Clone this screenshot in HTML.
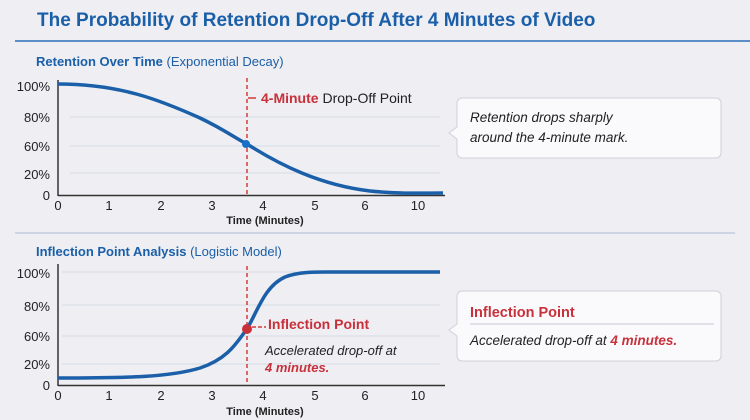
<!DOCTYPE html>
<html><head><style>
body{margin:0;background:#eeeef3;}
svg{display:block;font-family:"Liberation Sans",sans-serif;}
</style></head><body>
<svg width="750" height="420" viewBox="0 0 750 420">
<rect width="750" height="420" fill="#eeeef3"/>
<text x="37" y="26" font-size="19" font-weight="bold" fill="#1a5fa8">The Probability of Retention Drop-Off After 4 Minutes of Video</text>
<line x1="15" y1="41" x2="750" y2="41" stroke="#2a6fb8" stroke-width="1.5"/>
<text x="36" y="66" font-size="13" fill="#1a5fa8"><tspan font-weight="bold">Retention Over Time</tspan> (Exponential Decay)</text>
<g stroke="#d8dce6" stroke-width="1"><line x1="70" y1="117" x2="440" y2="117"/><line x1="70" y1="146" x2="440" y2="146"/><line x1="70" y1="173" x2="440" y2="173"/></g>
<g font-size="13" fill="#222" text-anchor="end"><text x="50" y="91">100%</text><text x="50" y="122">80%</text><text x="50" y="151">60%</text><text x="50" y="179">20%</text><text x="50" y="200">0</text></g>
<line x1="58" y1="80" x2="58" y2="196" stroke="#333" stroke-width="1.5"/>
<line x1="58" y1="195.5" x2="445" y2="195.5" stroke="#333" stroke-width="1.5"/>
<g font-size="13" fill="#222" text-anchor="middle"><text x="58" y="210">0</text><text x="109" y="210">1</text><text x="161" y="210">2</text><text x="212" y="210">3</text><text x="263" y="210">4</text><text x="315" y="210">5</text><text x="365" y="210">6</text><text x="418" y="210">10</text></g>
<text x="265" y="224" font-size="11" font-weight="bold" fill="#222" text-anchor="middle">Time (Minutes)</text>
<line x1="247" y1="78" x2="247" y2="195" stroke="#d63a3a" stroke-width="1.5" stroke-dasharray="4,3"/>
<path d="M58,84 C120,84 160,100 200,118 C225,130 235,138 247,144 C280,165 320,185 370,191 C400,194 420,193 443,193" fill="none" stroke="#1a5fa8" stroke-width="3.5"/>
<circle cx="246" cy="144" r="4" fill="#1a6fc8"/>
<line x1="248" y1="98" x2="256" y2="98" stroke="#d63a3a" stroke-width="1.5"/>
<text x="261" y="103" font-size="14" fill="#222"><tspan font-weight="bold" fill="#c8303a">4-Minute</tspan> Drop-Off Point</text>
<path d="M462,98 H716 a5,5 0 0 1 5,5 V153 a5,5 0 0 1 -5,5 H462 a5,5 0 0 1 -5,-5 V139 L449,133 L457,127 V103 a5,5 0 0 1 5,-5 Z" fill="#fafafc" stroke="#cfd2da"/>
<text x="470" y="122" font-size="13.5" font-style="italic" fill="#222">Retention drops sharply</text>
<text x="470" y="142" font-size="13.5" font-style="italic" fill="#222">around the 4-minute mark.</text>
<line x1="15" y1="233" x2="735" y2="233" stroke="#a9bcd4" stroke-width="1"/>
<text x="36" y="256" font-size="13" fill="#1a5fa8"><tspan font-weight="bold">Inflection Point Analysis</tspan> (Logistic Model)</text>
<g stroke="#d8dce6" stroke-width="1"><line x1="62" y1="272" x2="440" y2="272"/><line x1="62" y1="305" x2="440" y2="305"/><line x1="62" y1="336" x2="440" y2="336"/><line x1="62" y1="364" x2="440" y2="364"/></g>
<g font-size="13" fill="#222" text-anchor="end"><text x="50" y="278">100%</text><text x="50" y="311">80%</text><text x="50" y="341">60%</text><text x="50" y="369">20%</text><text x="50" y="390">0</text></g>
<line x1="58" y1="264" x2="58" y2="386" stroke="#333" stroke-width="1.5"/>
<line x1="58" y1="385.5" x2="445" y2="385.5" stroke="#333" stroke-width="1.5"/>
<g font-size="13" fill="#222" text-anchor="middle"><text x="58" y="400">0</text><text x="109" y="400">1</text><text x="161" y="400">2</text><text x="212" y="400">3</text><text x="263" y="400">4</text><text x="315" y="400">5</text><text x="365" y="400">6</text><text x="418" y="400">10</text></g>
<text x="265" y="415" font-size="11" font-weight="bold" fill="#222" text-anchor="middle">Time (Minutes)</text>
<line x1="247" y1="266" x2="247" y2="384" stroke="#d63a3a" stroke-width="1.5" stroke-dasharray="4,3"/>
<path d="M58,378 C130,378 170,377 200,368 C230,358 238,340 247,329 C258,310 265,286 285,277 C300,271 320,272 340,272 L440,272" fill="none" stroke="#1a5fa8" stroke-width="3.5"/>
<circle cx="247" cy="329" r="5" fill="#c8303a"/>
<line x1="252" y1="327" x2="266" y2="327" stroke="#d63a3a" stroke-width="1.5" stroke-dasharray="4,2"/>
<text x="268" y="329" font-size="14" font-weight="bold" fill="#c8303a">Inflection Point</text>
<text x="265" y="355" font-size="13" font-style="italic" fill="#222">Accelerated drop-off at</text>
<text x="265" y="372" font-size="13" font-style="italic" font-weight="bold" fill="#c8303a">4 minutes.</text>
<path d="M462,291 H716 a5,5 0 0 1 5,5 V356 a5,5 0 0 1 -5,5 H462 a5,5 0 0 1 -5,-5 V336 L449,330 L457,324 V296 a5,5 0 0 1 5,-5 Z" fill="#fafafc" stroke="#cfd2da"/>
<text x="470" y="317" font-size="14.5" font-weight="bold" fill="#c8303a">Inflection Point</text>
<line x1="470" y1="324" x2="714" y2="324" stroke="#c8cbd3"/>
<text x="470" y="345" font-size="13.5" font-style="italic" fill="#222">Accelerated drop-off at <tspan font-weight="bold" fill="#c8303a">4 minutes.</tspan></text>
</svg>
</body></html>
